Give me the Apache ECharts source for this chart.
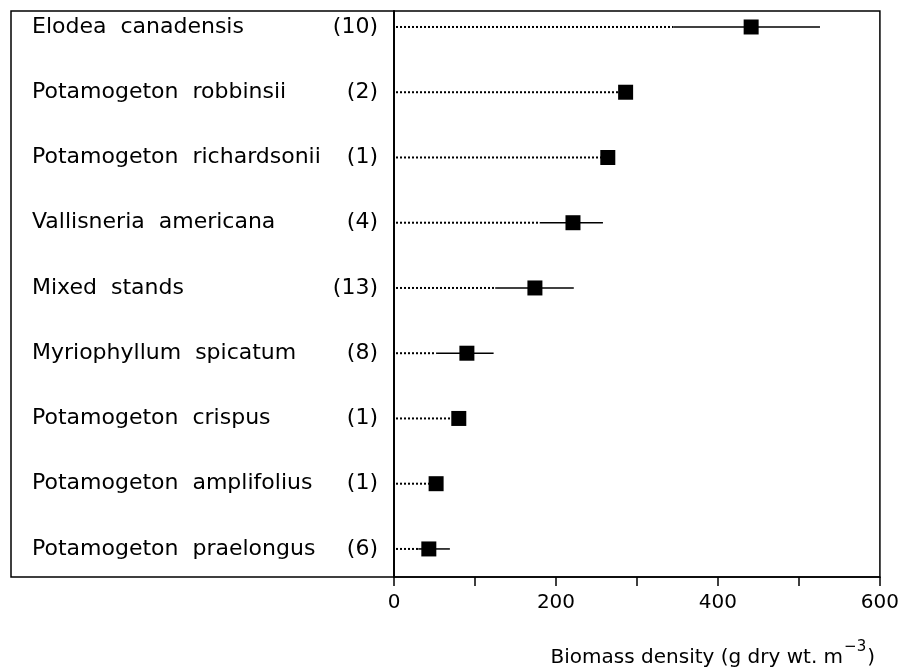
<!DOCTYPE html>
<html>
<head>
<meta charset="utf-8">
<script src="https://cdn.jsdelivr.net/npm/echarts@6/dist/echarts.min.js"></script>
<style>html,body{margin:0;padding:0;background:#fff;}#c{width:902px;height:672px;}</style>
</head>
<body>
<div id="c"></div>
<script>
// Data (top to bottom)
var species = ['Elodea  canadensis','Potamogeton  robbinsii','Potamogeton  richardsonii','Vallisneria  americana','Mixed  stands','Myriophyllum  spicatum','Potamogeton  crispus','Potamogeton  amplifolius','Potamogeton  praelongus'];
var counts = [10, 2, 1, 4, 13, 8, 1, 1, 6];
var means = [441, 286, 264, 221, 174, 90, 80, 52, 43];
var lows = [345, null, null, 180, 125, 52, null, null, 30];
var highs = [526, null, null, 258, 222, 123, null, null, 69];
var xTicks = [0, 200, 400, 600];
var axisTitle = 'Biomass density (g dry wt. m';
var axisTitleSup = '\u22123';

var FONT = 'DejaVu Sans';
var chart = echarts.init(document.getElementById('c'));

var rows = species.map(function (s, i) { return i + 1; });
var scatterData = means.map(function (m, i) { return [m, rows[i]]; });
var labelData = species.map(function (s, i) { return { value: [0, rows[i]], name: s, cnt: counts[i] }; });
var barData = means.map(function (m, i) {
  return [lows[i] == null ? m : lows[i], highs[i] == null ? m : highs[i], rows[i], lows[i] == null ? 0 : 1];
});

var option = {
  animation: false,
  backgroundColor: '#fff',
  grid: { left: 394, right: 22, top: 11, bottom: 95, show: true, borderColor: '#000', borderWidth: 1.5, backgroundColor: 'transparent' },
  xAxis: {
    type: 'value', min: 0, max: 600, interval: 100,
    axisLine: { show: true, lineStyle: { color: '#000', width: 1.5 } },
    axisTick: { show: true, length: 9, lineStyle: { color: '#000', width: 1.5 } },
    splitLine: { show: false },
    axisLabel: {
      margin: 16, color: '#000', fontFamily: FONT, fontSize: 20,
      formatter: function (v) { return xTicks.indexOf(v) >= 0 ? String(v) : ''; }
    }
  },
  yAxis: {
    type: 'value', inverse: true, min: 0.755, max: 9.43,
    axisLine: { show: true, lineStyle: { color: '#000', width: 1.5 } },
    axisTick: { show: false }, axisLabel: { show: false }, splitLine: { show: false }
  },
  title: {
    text: '{a|' + axisTitle + '}{s|' + axisTitleSup + '}{a|)}',
    right: 22, top: 635,
    textStyle: {
      fontWeight: 'normal',
      rich: {
        a: { fontFamily: FONT, fontSize: 20, fontWeight: 'normal', color: '#000', lineHeight: 28, verticalAlign: 'bottom' },
        s: { fontFamily: FONT, fontSize: 15, fontWeight: 'normal', color: '#000', lineHeight: 28, verticalAlign: 'top', padding: [0, 1, 0, 1] }
      }
    }
  },
  graphic: [
    { type: 'rect', shape: { x: 11, y: 11, width: 383, height: 566 }, style: { fill: 'none', stroke: '#000', lineWidth: 1.5 }, z: 0 }
  ],
  series: [
    {
      type: 'custom',
      data: barData,
      encode: { x: [0, 1], y: 2 },
      clip: false,
      renderItem: function (params, api) {
        var y = api.value(2);
        var p0 = api.coord([0, y]);
        var pl = api.coord([api.value(0), y]);
        var ph = api.coord([api.value(1), y]);
        var children = [
          { type: 'line', shape: { x1: p0[0] + 2, y1: p0[1], x2: pl[0], y2: pl[1] },
            style: { stroke: '#000', lineWidth: 2, lineDash: [2, 2] } }
        ];
        if (api.value(3) === 1) {
          children.push({ type: 'line', shape: { x1: pl[0], y1: pl[1], x2: ph[0], y2: ph[1] },
            style: { stroke: '#000', lineWidth: 1.5 } });
        }
        return { type: 'group', children: children };
      },
      z: 2
    },
    {
      type: 'scatter',
      data: scatterData,
      symbol: 'rect', symbolSize: 15,
      itemStyle: { color: '#000', opacity: 1 },
      z: 3
    },
    {
      type: 'scatter',
      data: labelData,
      symbolSize: 0,
      silent: true,
      itemStyle: { opacity: 1 },
      label: {
        show: true, position: 'left', distance: 16, color: '#000',
        formatter: function (p) { return '{n|' + p.data.name + '}{c|(' + p.data.cnt + ')}'; },
        rich: {
          n: { fontFamily: FONT, fontSize: 22, color: '#000', width: 292, align: 'left' },
          c: { fontFamily: FONT, fontSize: 22, color: '#000', width: 54, align: 'right' }
        }
      },
      z: 4
    }
  ]
};
chart.setOption(option);
</script>
</body>
</html>
